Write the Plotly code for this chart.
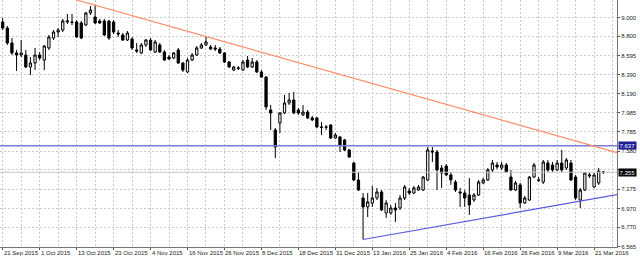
import plotly.graph_objects as go
import pandas as pd

# ---- data ----
opens = [8.952, 8.888, 8.729, 8.623, 8.601, 8.601, 8.474, 8.516, 8.601, 8.548,
         8.676, 8.782, 8.846, 8.867, 8.952, 8.952, 8.952, 8.942, 8.920, 9.048,
         9.005, 8.963, 8.963, 8.963, 8.952, 8.835, 8.814, 8.761, 8.771, 8.655,
         8.623, 8.708, 8.761, 8.633, 8.708, 8.633, 8.580, 8.569, 8.655, 8.516,
         8.421, 8.548, 8.601, 8.676, 8.708, 8.686, 8.676, 8.665, 8.623, 8.527,
         8.442, 8.463, 8.442, 8.548, 8.474, 8.527, 8.421, 8.367, 8.017, 7.804,
         7.879, 7.985, 8.091, 8.123, 8.017, 7.964, 7.995, 7.932, 7.932, 7.836,
         7.836, 7.857, 7.719, 7.730, 7.698, 7.592, 7.453, 7.273, 7.081, 6.986,
         7.028, 7.081, 7.145, 6.922, 6.922, 6.975, 6.975, 7.081, 7.156, 7.134,
         7.166, 7.166, 7.273, 7.581, 7.570, 7.400, 7.421, 7.326, 7.251, 7.145,
         7.134, 7.113, 7.060, 7.113, 7.241, 7.273, 7.379, 7.432, 7.400, 7.432,
         7.304, 7.166, 7.220, 7.028, 7.060, 7.304, 7.273, 7.251, 7.453, 7.432,
         7.379, 7.453, 7.400, 7.453, 7.304, 7.060, 7.166, 7.315, 7.198, 7.241,
         7.358]
highs = [8.995, 8.910, 8.782, 8.655, 8.761, 8.655, 8.580, 8.676, 8.633, 8.708,
         8.814, 8.867, 8.888, 8.984, 9.037, 9.037, 8.973, 8.963, 9.058, 9.122,
         9.133, 8.984, 8.984, 8.973, 8.973, 8.867, 8.835, 8.856, 8.793, 8.729,
         8.729, 8.771, 8.782, 8.761, 8.729, 8.655, 8.601, 8.633, 8.676, 8.527,
         8.569, 8.623, 8.697, 8.729, 8.793, 8.708, 8.708, 8.686, 8.633, 8.538,
         8.484, 8.484, 8.548, 8.591, 8.569, 8.548, 8.442, 8.378, 8.070, 7.825,
         7.995, 8.176, 8.197, 8.208, 8.038, 8.070, 8.017, 7.953, 7.942, 7.889,
         7.857, 7.868, 7.772, 7.740, 7.708, 7.602, 7.464, 7.358, 7.134, 7.134,
         7.209, 7.188, 7.166, 7.060, 7.007, 7.028, 7.113, 7.220, 7.188, 7.209,
         7.220, 7.315, 7.623, 7.623, 7.592, 7.432, 7.443, 7.358, 7.273, 7.188,
         7.166, 7.294, 7.134, 7.273, 7.294, 7.400, 7.485, 7.464, 7.464, 7.453,
         7.379, 7.262, 7.241, 7.103, 7.315, 7.453, 7.304, 7.485, 7.485, 7.464,
         7.485, 7.592, 7.506, 7.485, 7.326, 7.188, 7.358, 7.347, 7.347, 7.400,
         7.368]
lows = [8.867, 8.708, 8.601, 8.431, 8.580, 8.463, 8.389, 8.442, 8.548, 8.442,
        8.655, 8.761, 8.793, 8.846, 8.931, 8.920, 8.782, 8.771, 8.910, 9.027,
        8.931, 8.931, 8.803, 8.761, 8.825, 8.793, 8.750, 8.750, 8.655, 8.623,
        8.612, 8.686, 8.644, 8.623, 8.623, 8.538, 8.548, 8.559, 8.506, 8.421,
        8.410, 8.538, 8.591, 8.665, 8.697, 8.655, 8.644, 8.612, 8.516, 8.463,
        8.431, 8.442, 8.431, 8.463, 8.463, 8.410, 8.357, 8.017, 7.804, 7.506,
        7.772, 7.974, 8.070, 7.974, 7.964, 7.953, 7.921, 7.900, 7.825, 7.751,
        7.804, 7.708, 7.708, 7.570, 7.581, 7.506, 7.262, 7.156, 6.640, 6.879,
        6.986, 7.060, 6.943, 6.869, 6.901, 6.826, 6.954, 7.060, 7.113, 7.124,
        7.156, 7.156, 7.262, 7.464, 7.166, 7.188, 7.315, 7.220, 7.145, 6.986,
        6.986, 6.901, 7.039, 7.103, 7.230, 7.262, 7.358, 7.390, 7.379, 7.347,
        7.156, 7.156, 6.975, 7.017, 7.049, 7.294, 7.251, 7.230, 7.358, 7.358,
        7.368, 7.358, 7.379, 7.262, 7.060, 6.975, 7.156, 7.294, 7.188, 7.220,
        7.336]
closes = [8.888, 8.729, 8.623, 8.601, 8.623, 8.474, 8.516, 8.601, 8.569, 8.697,
          8.793, 8.846, 8.867, 8.963, 8.963, 8.948, 8.793, 8.782, 9.048, 9.080,
          8.942, 8.942, 8.814, 8.782, 8.846, 8.825, 8.761, 8.835, 8.676, 8.644,
          8.708, 8.761, 8.655, 8.740, 8.633, 8.548, 8.559, 8.623, 8.516, 8.442,
          8.548, 8.601, 8.676, 8.708, 8.740, 8.665, 8.665, 8.623, 8.527, 8.474,
          8.474, 8.460, 8.527, 8.474, 8.527, 8.421, 8.367, 8.049, 7.985, 7.623,
          7.985, 8.091, 8.123, 7.985, 7.985, 7.995, 7.932, 7.911, 7.836, 7.831,
          7.834, 7.719, 7.751, 7.645, 7.592, 7.517, 7.273, 7.166, 6.986, 7.039,
          7.081, 7.145, 6.954, 7.028, 6.975, 6.954, 7.081, 7.198, 7.134, 7.188,
          7.198, 7.304, 7.592, 7.570, 7.379, 7.347, 7.326, 7.273, 7.166, 7.134,
          7.081, 7.007, 7.113, 7.251, 7.273, 7.379, 7.453, 7.411, 7.432, 7.358,
          7.166, 7.241, 7.028, 7.081, 7.304, 7.432, 7.270, 7.464, 7.379, 7.379,
          7.453, 7.379, 7.485, 7.273, 7.081, 7.166, 7.347, 7.326, 7.326, 7.368,
          7.355]

# trendline anchors (bar index, price)
resistance_x = [16.0, 132.96]
resistance_y = [9.186, 7.564]
support_x = [78.0, 132.96]
support_y = [6.640, 7.117]
level_price = 7.637
last_price = 7.355

ytick_vals = [9.000, 8.800, 8.595, 8.390, 8.190, 7.985, 7.785, 7.580, 7.380,
              7.175, 6.970, 6.770, 6.565]
ytick_text = ["9.000", "8.800", "8.595", "8.390", "8.190", "7.985", "7.785",
              "7.580", "", "7.175", "6.970", "6.770", "6.565"]

n = len(opens)
all_days = pd.bdate_range("2015-09-21", "2016-04-30")
trading_days = [d for d in all_days if d.strftime("%m-%d") not in ("12-25", "01-01")][:n]
idx = list(range(n))
label_idx = list(range(0, n, 8))
label_text = [f"{trading_days[i].day} {trading_days[i].strftime('%b %Y')}" for i in label_idx]

FONT = "Liberation Sans"
GRID = "#c9c9c9"

fig = go.Figure()

# horizontal level and last price line
fig.add_trace(go.Scatter(x=[-0.6, 133.0], y=[last_price, last_price], mode="lines",
                         line=dict(color="#c4c4c4", width=1), hoverinfo="skip",
                         showlegend=False))
fig.add_trace(go.Scatter(x=[-0.6, 133.0], y=[level_price, level_price], mode="lines",
                         line=dict(color="#7c7cd4", width=1.6), hoverinfo="skip",
                         showlegend=False))

fig.add_trace(go.Candlestick(
    x=idx, open=opens, high=highs, low=lows, close=closes,
    increasing=dict(line=dict(color="#000000", width=1), fillcolor="#ffffff"),
    decreasing=dict(line=dict(color="#000000", width=1), fillcolor="#000000"),
    whiskerwidth=0, showlegend=False, hoverinfo="skip"))

fig.add_trace(go.Scatter(x=resistance_x, y=resistance_y, mode="lines",
                         line=dict(color="#ff8c68", width=1.2), hoverinfo="skip",
                         showlegend=False))
fig.add_trace(go.Scatter(x=support_x, y=support_y, mode="lines",
                         line=dict(color="#5a5ae0", width=1.2), hoverinfo="skip",
                         showlegend=False))

annotations = []
for i, t in zip(label_idx, label_text):
    annotations.append(dict(x=i, y=0, xref="x", yref="paper", text=t,
                            showarrow=False, xanchor="left", yanchor="top",
                            xshift=-1, yshift=-1,
                            font=dict(family=FONT, size=6, color="#222222")))
annotations.append(dict(x=1, y=level_price, xref="paper", yref="y",
                        text="7.637", showarrow=False, xanchor="left",
                        yanchor="middle", xshift=1, bgcolor="#1c1c96",
                        borderpad=0.5,
                        font=dict(family=FONT, size=6, color="#ffffff")))
annotations.append(dict(x=1, y=last_price, xref="paper", yref="y",
                        text="7.355", showarrow=False, xanchor="left",
                        yanchor="middle", xshift=1, bgcolor="#000000",
                        borderpad=0.5,
                        font=dict(family=FONT, size=6, color="#ffffff")))

fig.update_layout(
    width=640, height=260,
    margin=dict(l=0, r=23, t=0, b=13),
    paper_bgcolor="#ffffff", plot_bgcolor="#ffffff",
    showlegend=False,
    annotations=annotations,
    xaxis=dict(
        range=[-0.584, 132.96], rangeslider=dict(visible=False),
        tickvals=label_idx, ticktext=[""] * len(label_idx),
        ticks="outside", ticklen=2, tickcolor="#555555",
        showgrid=True, gridcolor=GRID, griddash="2px,2px", gridwidth=1,
        minor=dict(tickvals=list(range(4, n + 4, 8)), showgrid=True,
                   gridcolor=GRID, griddash="2px,2px", gridwidth=1, ticks=""),
        showline=True, linecolor="#777777", linewidth=1,
        zeroline=False, fixedrange=True,
    ),
    yaxis=dict(
        side="right", range=[6.560, 9.186],
        tickvals=ytick_vals, ticktext=ytick_text,
        ticks="outside", ticklen=2, tickcolor="#555555",
        tickfont=dict(family=FONT, size=6, color="#222222"),
        showgrid=True, gridcolor=GRID, griddash="2px,2px", gridwidth=1,
        showline=True, linecolor="#777777", linewidth=1,
        zeroline=False, fixedrange=True,
    ),
)

fig.write_html("out.html")
